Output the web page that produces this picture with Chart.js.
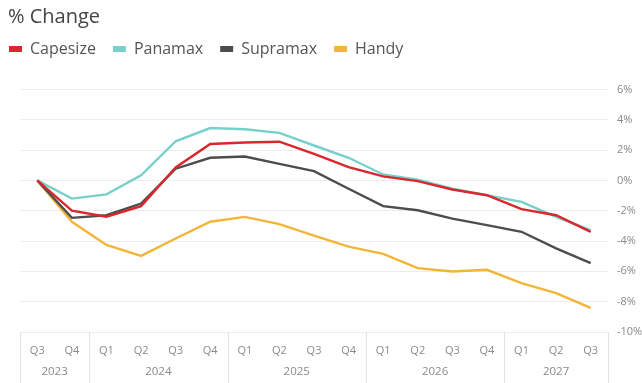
<!DOCTYPE html>
<html>
<head>
<meta charset="utf-8">
<script src="https://cdn.jsdelivr.net/npm/chart.js@4.4.1/dist/chart.umd.min.js"></script>
<style>
  html, body { margin: 0; padding: 0; background: #fff; }
  #wrap { width: 642px; height: 383px; }
</style>
</head>
<body>
<div id="wrap"><canvas id="chart" width="642" height="383"></canvas></div>
<script>
// quarterly ticks and the year they belong to
const quarters = ['Q3', 'Q4', 'Q1', 'Q2', 'Q3', 'Q4', 'Q1', 'Q2', 'Q3', 'Q4', 'Q1', 'Q2', 'Q3', 'Q4', 'Q1', 'Q2', 'Q3'];
const years = ['2023', '2024', '2025', '2026', '2027'];
const yearSpan = [2, 4, 4, 4, 3];

// % change per vessel class
const capesize = [0, -2.0, -2.4, -1.7, 0.85, 2.4, 2.5, 2.55, 1.75, 0.87, 0.26, -0.05, -0.6, -0.98, -1.9, -2.3, -3.4];
const panamax = [0, -1.2, -0.92, 0.33, 2.58, 3.45, 3.37, 3.13, 2.3, 1.49, 0.39, 0.04, -0.55, -0.98, -1.42, -2.4, -3.28];
const supramax = [0, -2.47, -2.3, -1.53, 0.77, 1.49, 1.57, 1.09, 0.61, -0.55, -1.7, -1.97, -2.52, -2.95, -3.39, -4.48, -5.46];
const handy = [0, -2.73, -4.26, -4.98, -3.83, -2.73, -2.41, -2.89, -3.65, -4.37, -4.85, -5.79, -6.01, -5.9, -6.78, -7.43, -8.41];

const yTicks = [6, 4, 2, 0, -2, -4, -6, -8, -10];

const FONT = "'Open Sans', sans-serif";
const GRID = '#ececec';

function series(label, data, color) {
  return {
    label: label,
    data: data,
    yAxisID: 'y',
    borderColor: color,
    backgroundColor: color,
    borderWidth: 2.4,
    pointRadius: 0,
    tension: 0
  };
}

// legend gets a fixed height so the plot starts where it should,
// and is nudged up/left after layout
const legendPlace = {
  id: 'legendPlace',
  beforeLayout(chart) {
    const lg = chart.legend;
    if (lg && !lg._fixed) {
      const fit = lg.fit;
      lg.fit = function () {
        fit.call(this);
        this.height = 60.4;
      };
      lg._fixed = true;
    }
  },
  afterLayout(chart) {
    chart.legend.left -= 16;
    chart.legend.top -= 5;
  }
};

// second row of the x axis: years centred under their quarters, boxed
const yearRow = {
  id: 'yearRow',
  afterDraw(chart) {
    const { ctx, chartArea, scales } = chart;
    const x = scales.x;
    const bottom = chart.height;
    const edges = [chartArea.left];
    ctx.save();
    ctx.font = '11.5px ' + FONT;
    ctx.fillStyle = '#8a8a8a';
    ctx.textAlign = 'center';
    ctx.textBaseline = 'middle';
    let idx = 0;
    years.forEach((yr, g) => {
      const first = idx;
      const last = idx + yearSpan[g] - 1;
      const cx = (x.getPixelForValue(first) + x.getPixelForValue(last)) / 2;
      ctx.fillText(yr, cx, chartArea.bottom + 40);
      if (g < years.length - 1) {
        edges.push((x.getPixelForValue(last) + x.getPixelForValue(last + 1)) / 2);
      }
      idx = last + 1;
    });
    edges.push(chartArea.right);
    ctx.strokeStyle = '#e4e4e4';
    ctx.lineWidth = 1;
    edges.forEach(e => {
      const px = Math.round(e) + 0.5;
      ctx.beginPath();
      ctx.moveTo(px, chartArea.bottom);
      ctx.lineTo(px, bottom);
      ctx.stroke();
    });
    ctx.restore();
  }
};

new Chart(document.getElementById('chart'), {
  type: 'line',
  data: {
    labels: quarters,
    datasets: [
      series('Capesize', capesize, '#d9272e'),
      series('Panamax', panamax, '#78d0ca'),
      series('Supramax', supramax, '#4d4d4d'),
      series('Handy', handy, '#f2b537')
    ]
  },
  options: {
    responsive: false,
    animation: false,
    layout: { padding: { left: 8, right: 0, top: 0, bottom: 0 } },
    plugins: {
      title: {
        display: true,
        text: '% Change',
        align: 'start',
        color: '#444',
        font: { family: FONT, size: 20, weight: 'normal' },
        padding: { top: 5, bottom: 0 }
      },
      legend: {
        align: 'start',
        labels: {
          color: '#555',
          font: { family: FONT, size: 16 },
          boxWidth: 13,
          boxHeight: 6,
          padding: 17,
          generateLabels(chart) {
            return Chart.defaults.plugins.legend.labels.generateLabels(chart).map(item => {
              item.lineWidth = 0;
              return item;
            });
          }
        }
      },
      tooltip: { enabled: false }
    },
    scales: {
      x: {
        offset: true,
        grid: { display: false, drawTicks: false },
        border: { display: false },
        ticks: {
          color: '#8a8a8a',
          font: { family: FONT, size: 11 },
          padding: 12,
          maxRotation: 0,
          autoSkip: false
        },
        afterFit(scale) { scale.height = 51; }
      },
      yl: {
        position: 'left',
        display: true,
        grid: { display: false, drawTicks: false },
        border: { display: false },
        ticks: { display: false },
        afterFit(scale) { scale.width = 12; }
      },
      y: {
        position: 'right',
        min: -10,
        max: 6,
        afterBuildTicks(scale) { scale.ticks = yTicks.map(v => ({ value: v })); },
        grid: { color: GRID, drawTicks: false, lineWidth: 1 },
        border: { display: false },
        ticks: {
          color: '#8a8a8a',
          font: { family: FONT, size: 11 },
          padding: 9,
          callback: v => v + '%'
        },
        afterFit(scale) { scale.width = 34; }
      }
    }
  },
  plugins: [legendPlace, yearRow]
});
</script>
</body>
</html>
